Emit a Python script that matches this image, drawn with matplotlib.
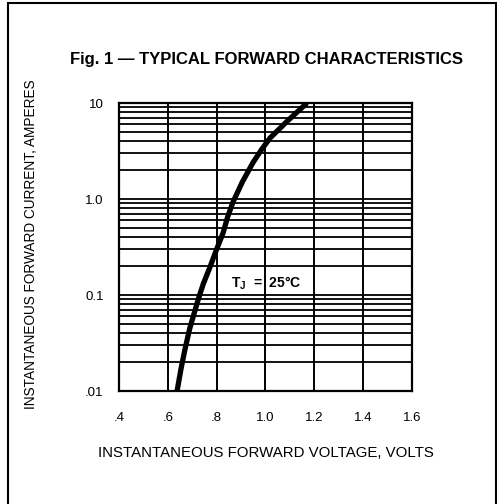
import matplotlib.pyplot as plt
import numpy as np
from matplotlib.patches import Rectangle

# curve
volts = [0.638, 0.654, 0.670, 0.690, 0.724, 0.745, 0.773, 0.800, 0.826,
         0.845, 0.867, 0.905, 0.949, 0.985, 1.018, 1.090, 1.170]
amps = [0.01, 0.017, 0.027, 0.045, 0.089, 0.13, 0.196, 0.30, 0.44,
        0.65, 0.93, 1.5, 2.4, 3.3, 4.3, 6.5, 10]

x_ticks = [0.4, 0.6, 0.8, 1.0, 1.2, 1.4, 1.6]
x_labels = [".4", ".6", ".8", "1.0", "1.2", "1.4", "1.6"]
y_ticks = [0.01, 0.1, 1.0, 10]
y_labels = [".01", "0.1", "1.0", "10"]

plt.rcParams["font.family"] = ["Liberation Sans", "DejaVu Sans"]

fig = plt.figure(figsize=(4.97, 5.04), dpi=100)
ax = fig.add_axes([0.2394, 0.2242, 0.5895, 0.5714])

ax.set_yscale("log")
ax.set_xlim(0.4, 1.6)
ax.set_ylim(0.01, 10)

# log paper grid
grid_y = [m * 10.0 ** e for e in (-2, -1, 0) for m in range(1, 10)]
for g in grid_y:
    ax.axhline(g, color="black", lw=1.3, zorder=1)
for v in x_ticks:
    ax.axvline(v, color="black", lw=1.4, zorder=1)

ax.plot(volts, amps, color="black", lw=3.8, solid_capstyle="butt",
        solid_joinstyle="round", zorder=3)

ax.set_xticks(x_ticks)
ax.set_xticklabels(x_labels, fontsize=9.5)
ax.set_yticks(y_ticks)
ax.set_yticklabels(y_labels, fontsize=9.5)
ax.minorticks_off()
ax.tick_params(axis="y", length=0, pad=11)
ax.tick_params(axis="x", length=0, pad=15)
for s in ax.spines.values():
    s.set_linewidth(1.6)

ax.text(0.86, 0.133, "T$_\\mathregular{J}$  =  25°C", fontsize=10,
        fontweight="bold", va="center", ha="left", zorder=4)

ax.set_xlabel("INSTANTANEOUS FORWARD VOLTAGE, VOLTS", fontsize=10.8, labelpad=16)
fig.text(0.062, 0.516, "INSTANTANEOUS FORWARD CURRENT, AMPERES", fontsize=9.8,
         rotation=90, ha="center", va="center")
fig.text(0.537, 0.882, "Fig. 1 \u2014 TYPICAL FORWARD CHARACTERISTICS",
         fontsize=12, fontweight="bold", ha="center", va="center")

# outer frame
fig.patches.append(Rectangle((0.016, -0.02), 0.982, 1.014, transform=fig.transFigure,
                             fill=False, edgecolor="black", lw=1.5))

fig.savefig("out.png", dpi=100)
